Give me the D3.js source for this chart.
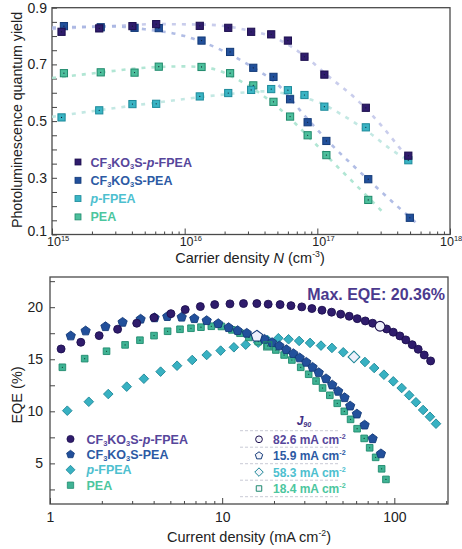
<!DOCTYPE html>
<html>
<head>
<meta charset="utf-8">
<script src="https://cdn.jsdelivr.net/npm/d3@7"></script>
<style>
  body { margin: 0; background: #fff; }
  svg { font-family: "Liberation Sans", Arial, sans-serif; }
</style>
</head>
<body>
<div id="chart"></div>
<script>
// ---- top panel: PLQY vs carrier density ----
const nA = [1.18e15, 2.27e15, 4.04e15, 6.1e15, 1.3e16, 2.13e16, 3.17e16, 4.49e16, 6.0e16, 8.0e16, 1.13e17, 2.32e17, 4.85e17];
const nB = [1.23e15, 2.33e15, 4.19e15, 6.38e15, 1.34e16, 2.2e16, 3.29e16, 4.67e16, 6.23e16, 8.45e16, 1.17e17, 2.42e17, 4.98e17];
const plqySaltPFPEA = [0.815, 0.827, 0.835, 0.842, 0.836, 0.829, 0.815, 0.806, 0.784, 0.727, 0.664, 0.547, 0.378];
const plqySaltPEA = [0.835, 0.831, 0.829, 0.828, 0.784, 0.744, 0.688, 0.656, 0.577, 0.496, 0.430, 0.295, 0.159];
const plqyPFPEA = [0.513, 0.538, 0.560, 0.561, 0.587, 0.599, 0.610, 0.613, 0.609, 0.592, 0.551, 0.478, 0.362];
const plqyPEA = [0.669, 0.672, 0.671, 0.692, 0.691, 0.669, 0.626, 0.568, 0.516, 0.450, 0.380, 0.222];

// dashed fit curves
const fitSaltPFPEA = [[1e15, 0.825], [3e15, 0.836], [6e15, 0.842], [1.5e16, 0.84], [3e16, 0.82], [5e16, 0.79], [8e16, 0.73], [1.2e17, 0.66], [2e17, 0.574], [3.1e17, 0.48], [4.1e17, 0.41], [5e17, 0.36]];
const fitSaltPEA = [[1e15, 0.83], [3e15, 0.834], [5e15, 0.824], [1e16, 0.80], [2e16, 0.745], [3.3e16, 0.688], [5e16, 0.63], [8e16, 0.52], [1.2e17, 0.43], [2.4e17, 0.295], [4e17, 0.2], [5.6e17, 0.14]];
const fitPFPEA = [[1e15, 0.515], [2e15, 0.535], [5e15, 0.56], [1e16, 0.578], [2e16, 0.594], [4e16, 0.605], [7e16, 0.588], [1.04e17, 0.565], [1.5e17, 0.525], [2.5e17, 0.457], [3.5e17, 0.404], [4.5e17, 0.37]];
const fitPEA = [[1e15, 0.652], [2e15, 0.668], [5e15, 0.688], [1e16, 0.693], [1.6e16, 0.685], [2.5e16, 0.647], [5e16, 0.55], [9e16, 0.435], [1.3e17, 0.357], [2e17, 0.27], [3.1e17, 0.18]];

// ---- bottom panel: EQE vs current density ----
const jCircle = [1.16, 1.51, 1.93, 2.47, 3.19, 4.02, 5.04, 6.10, 7.47, 9.05, 11.1, 13.3, 15.9, 18.5, 21.7, 25.1, 29.0, 33.2, 38.0, 43.2, 48.8, 54.7, 60.9, 67.8, 74.8, 82.6, 90.2, 98.6, 107.7, 116.6, 127, 137.6, 149.2, 162.5];
const eqeCircle = [15.99, 16.63, 17.27, 17.88, 18.46, 19.0, 19.38, 19.77, 20.06, 20.25, 20.32, 20.35, 20.35, 20.29, 20.25, 20.15, 20.03, 19.87, 19.71, 19.52, 19.33, 19.13, 18.9, 18.68, 18.46, 18.17, 17.91, 17.6, 17.24, 16.86, 16.4, 15.96, 15.41, 14.84];
const jPent = [1.32, 1.61, 2.10, 2.64, 3.36, 4.05, 4.80, 5.82, 6.89, 8.13, 9.49, 10.9, 12.3, 13.9, 15.9, 17.6, 19.5, 21.5, 23.6, 25.9, 28.2, 30.8, 33.5, 36.4, 40.1, 43.6, 47.2, 51.4, 55.4, 60.6, 67.2, 74.8, 83.6];
const eqePent = [17.24, 17.72, 18.13, 18.55, 18.85, 18.98, 19.1, 19.04, 18.9, 18.71, 18.42, 18.04, 17.75, 17.5, 17.21, 16.92, 16.6, 16.28, 15.92, 15.54, 15.13, 14.71, 14.23, 13.71, 13.13, 12.53, 11.92, 11.31, 10.51, 9.74, 8.68, 7.37, 5.92];
const jDiam = [1.26, 1.68, 2.18, 2.79, 3.51, 4.39, 5.47, 6.70, 8.13, 9.80, 11.7, 13.7, 16.2, 18.3, 21.2, 24.3, 28.0, 32.4, 37.5, 43.4, 50.5, 58.3, 67.5, 76.4, 87.0, 98.6, 110.3, 122, 133.5, 147, 161, 174.6];
const eqeDiam = [10.06, 10.92, 11.66, 12.37, 13.13, 13.81, 14.38, 14.93, 15.41, 15.83, 16.15, 16.4, 16.6, 16.86, 17.02, 16.92, 16.76, 16.57, 16.31, 16.09, 15.67, 15.22, 14.74, 14.16, 13.52, 12.88, 12.24, 11.54, 10.87, 10.13, 9.48, 8.81];
const jSq = [1.18, 1.59, 2.13, 2.73, 3.33, 4.02, 4.82, 5.69, 6.59, 7.53, 8.65, 9.9, 11.4, 12.7, 14.3, 16.2, 18.4, 20.5, 22.9, 25.4, 28.6, 31.8, 35.1, 38.3, 42.2, 46.6, 51.2, 55.7, 60.8, 66.8, 71.9, 77.9, 84.4, 89.4];
const eqeSq = [14.23, 15.06, 15.77, 16.38, 16.83, 17.27, 17.69, 17.88, 17.98, 18.08, 18.17, 18.15, 17.82, 17.5, 17.1, 16.7, 16.28, 15.89, 15.41, 14.93, 14.23, 13.56, 12.91, 12.24, 11.54, 10.77, 10.0, 9.23, 8.33, 7.4, 6.5, 5.58, 4.48, 3.46];

// J90 points (circle, pentagon, diamond, square)
const j90 = [82.6, 15.9, 58.3, 18.4];
const j90Eqe = [18.17, 17.21, 15.22, 16.28];
const j90Labels = ["82.6", "15.9", "58.3", "18.4"];

const names = [
  [["CF"], ["3", "sub"], ["KO"], ["3", "sub"], ["S-"], ["p", "it"], ["-FPEA"]],
  [["CF"], ["3", "sub"], ["KO"], ["3", "sub"], ["S-PEA"]],
  [["p", "it"], ["-FPEA"]],
  [["PEA"]]
];
const fillCol = ["#2f1c6c", "#22509b", "#38b1c2", "#3fb394"];
const edgeCol = ["#1c0f4e", "#133a78", "#1d8797", "#1f8a6e"];
const textCol = ["#56469b", "#2c5aa4", "#4dc0cf", "#4cc69e"];

const W = 462, H = 549;
const svg = d3.select('#chart').append('svg').attr('width', W).attr('height', H);

// custom symbols
const symPentagon = {
  draw(ctx, size) {
    const r = Math.sqrt(size / (2.5 * Math.sin(2 * Math.PI / 5)));
    for (let i = 0; i < 5; i++) {
      const a = -Math.PI / 2 + i * 2 * Math.PI / 5;
      if (i === 0) ctx.moveTo(r * Math.cos(a), r * Math.sin(a));
      else ctx.lineTo(r * Math.cos(a), r * Math.sin(a));
    }
    ctx.closePath();
  }
};
const symDiamond = {
  draw(ctx, size) {
    const h = Math.sqrt(size / 2);
    ctx.moveTo(0, -h); ctx.lineTo(h, 0); ctx.lineTo(0, h); ctx.lineTo(-h, 0); ctx.closePath();
  }
};
const symbols = [d3.symbolCircle, symPentagon, symDiamond, d3.symbolSquare];

// rich text with sub/superscripts and italics
function rich(sel, parts, size) {
  let shift = 0;
  parts.forEach(([txt, kind]) => {
    const want = kind === 'sub' ? size * 0.2 : kind === 'sup' ? -size * 0.4 : 0;
    const t = sel.append('tspan').attr('dy', want - shift).text(txt);
    shift = want;
    if (kind === 'sub' || kind === 'sup') t.attr('font-size', size * 0.6);
    if (kind === 'it') t.attr('font-style', 'italic');
  });
}

function logMinor(lo, hi) {
  const out = [];
  for (let e = lo; e < hi; e++) for (let m = 2; m <= 9; m++) out.push(m * Math.pow(10, e));
  return out;
}

// ================= TOP PANEL =================
const xTop = d3.scaleLog().domain([1e15, 1e18]).range([52, 450]);
const yTop = d3.scaleLinear().domain([0.1, 0.9]).range([234.5, 7.7]);
const topG = svg.append('g');

topG.append('rect')
  .attr('x', 52).attr('y', 7.7).attr('width', 398).attr('height', 226.8)
  .attr('fill', 'none').attr('stroke', '#4a4a4a').attr('stroke-width', 1.3);

// y axis
topG.append('g').attr('transform', 'translate(52,0)')
  .call(d3.axisLeft(yTop).tickValues(d3.range(0.1, 0.91, 0.05)).tickSize(-5).tickFormat(''))
  .call(g => g.select('.domain').remove());
topG.append('g').attr('transform', 'translate(52,0)')
  .call(d3.axisLeft(yTop).tickValues([0.1, 0.3, 0.5, 0.7, 0.9]).tickSize(0).tickPadding(5).tickFormat(d3.format('.1f')))
  .call(g => g.select('.domain').remove())
  .call(g => g.selectAll('.tick').filter(d => d === 0.1).select('text').attr('dy', '0.1em'))
  .selectAll('text').attr('font-size', 14).attr('fill', '#222');

// x axis
topG.append('g').attr('transform', 'translate(0,234.5)')
  .call(d3.axisBottom(xTop).tickValues(logMinor(15, 18)).tickSize(-3).tickFormat(''))
  .call(g => g.select('.domain').remove());
topG.append('g').attr('transform', 'translate(0,234.5)')
  .call(d3.axisBottom(xTop).tickValues([1e15, 1e16, 1e17, 1e18]).tickSize(-6).tickFormat(''))
  .call(g => g.select('.domain').remove());
topG.selectAll('.tick line').attr('stroke', '#444');

[15, 16, 17, 18].forEach(e => {
  const off = e === 18 ? 10 : 5;
  const t = topG.append('text').attr('x', xTop(Math.pow(10, e)) - off).attr('y', 245.5)
    .attr('text-anchor', 'start').attr('font-size', 12.5).attr('fill', '#222');
  rich(t, [["10"], [String(e), "sup"]], 12.5);
});

topG.append('text').attr('x', 250).attr('y', 263).attr('text-anchor', 'middle')
  .attr('font-size', 14.5).attr('fill', '#222')
  .call(t => rich(t, [["Carrier density "], ["N", "it"], [" (cm"], ["-3", "sup"], [")"]], 14.5));

topG.append('text').attr('transform', 'translate(22,120) rotate(-90)')
  .attr('text-anchor', 'middle').attr('font-size', 14.2).attr('fill', '#222')
  .text('Photoluminescence quantum yield');

// fit lines
const fitLine = d3.line().x(d => xTop(d[0])).y(d => yTop(d[1])).curve(d3.curveMonotoneX);
const fits = [fitSaltPFPEA, fitSaltPEA, fitPFPEA, fitPEA];
const fitCol = ["#c3c8ea", "#a9b6e2", "#bde6e0", "#a8e3cf"];
fits.forEach((f, i) => {
  topG.append('path').datum(f).attr('d', fitLine)
    .attr('fill', 'none').attr('stroke', fitCol[i]).attr('stroke-width', 2.6)
    .attr('stroke-dasharray', '4,6').attr('opacity', 0.9);
});

// squares
const topSeries = [
  [nA, plqySaltPFPEA], [nB, plqySaltPEA], [nA, plqyPFPEA], [nB, plqyPEA]
];
const topFill = ["#2f1c6c", "#22509b", "#3ab4c4", "#4dbf9c"];
const topEdge = ["#1c0f4e", "#133a78", "#1c8a9a", "#208a6c"];
[3, 2, 1, 0].forEach(i => {
  const [xs, ys] = topSeries[i];
  const pts = ys.map((v, k) => [xs[k], v]);
  const g = topG.append('g');
  g.selectAll('rect').data(pts).join('rect')
    .attr('x', d => xTop(d[0]) - 3.6).attr('y', d => yTop(d[1]) - 3.6)
    .attr('width', 7.2).attr('height', 7.2)
    .attr('fill', topFill[i]).attr('stroke', topEdge[i]).attr('stroke-width', 1);
  g.selectAll('circle').data(pts).join('circle')
    .attr('cx', d => xTop(d[0])).attr('cy', d => yTop(d[1])).attr('r', 0.6)
    .attr('fill', '#102030');
});

// top legend
names.forEach((nm, i) => {
  const y = 162 + i * 18.3;
  topG.append('rect').attr('x', 75).attr('y', y - 3).attr('width', 6).attr('height', 6)
    .attr('fill', topFill[i]).attr('stroke', topEdge[i]).attr('stroke-width', 0.8);
  const t = topG.append('text').attr('x', 90.5).attr('y', y + 4.5)
    .attr('font-size', 12.5).attr('font-weight', 'bold').attr('fill', textCol[i]);
  rich(t, nm, 12.5);
});

// ================= BOTTOM PANEL =================
const xBot = d3.scaleLog().domain([1, 205]).range([50, 448]);
const yBot = d3.scaleLinear().domain([1.1, 22.9]).range([504, 277]);
const botG = svg.append('g');

botG.append('rect')
  .attr('x', 50).attr('y', 277).attr('width', 398).attr('height', 227)
  .attr('fill', 'none').attr('stroke', '#4a4a4a').attr('stroke-width', 1.3);

botG.append('g').attr('transform', 'translate(50,0)')
  .call(d3.axisLeft(yBot).tickValues(d3.range(2.5, 22.6, 2.5)).tickSize(-5).tickFormat(''))
  .call(g => g.select('.domain').remove());
botG.append('g').attr('transform', 'translate(50,0)')
  .call(d3.axisLeft(yBot).tickValues([5, 10, 15, 20]).tickSize(0).tickPadding(7).tickFormat(d3.format('d')))
  .call(g => g.select('.domain').remove())
  .selectAll('text').attr('font-size', 14).attr('fill', '#222');

botG.append('g').attr('transform', 'translate(0,504)')
  .call(d3.axisBottom(xBot).tickValues(logMinor(0, 2).concat([200])).tickSize(-3).tickFormat(''))
  .call(g => g.select('.domain').remove());
botG.append('g').attr('transform', 'translate(0,504)')
  .call(d3.axisBottom(xBot).tickValues([1, 10, 100]).tickSize(-6).tickPadding(8).tickFormat(d3.format('d')))
  .call(g => g.select('.domain').remove())
  .selectAll('text').attr('font-size', 14).attr('fill', '#222');
botG.selectAll('.tick line').attr('stroke', '#444');

botG.append('text').attr('x', 249).attr('y', 542).attr('text-anchor', 'middle')
  .attr('font-size', 14.5).attr('fill', '#222')
  .call(t => rich(t, [["Current density (mA cm"], ["-2", "sup"], [")"]], 14.5));

botG.append('text').attr('transform', 'translate(22,395) rotate(-90)')
  .attr('text-anchor', 'middle').attr('font-size', 14.5).attr('fill', '#222')
  .text('EQE (%)');

// data markers
const botSeries = [[jCircle, eqeCircle], [jPent, eqePent], [jDiam, eqeDiam], [jSq, eqeSq]];
const botSize = [50, 56, 46, 44];
[2, 3, 1, 0].forEach(i => {
  const [xs, ys] = botSeries[i];
  const pts = ys.map((v, k) => [xs[k], v]);
  const g = botG.append('g');
  g.selectAll('path').data(pts).join('path')
    .attr('d', d3.symbol().type(symbols[i]).size(botSize[i]))
    .attr('transform', d => `translate(${xBot(d[0])},${yBot(d[1])})`)
    .attr('fill', fillCol[i]).attr('stroke', edgeCol[i]).attr('stroke-width', 0.9);
  if (i === 3) {
    g.selectAll('circle').data(pts).join('circle')
      .attr('cx', d => xBot(d[0])).attr('cy', d => yBot(d[1])).attr('r', 0.6)
      .attr('fill', '#0e3a30');
  }
});

// J90 open markers
j90.forEach((j, i) => {
  botG.append('path')
    .attr('d', d3.symbol().type(symbols[i]).size(botSize[i] * 1.5)())
    .attr('transform', `translate(${xBot(j)},${yBot(j90Eqe[i])})`)
    .attr('fill', i === 3 ? 'none' : '#eef0fb').attr('stroke', edgeCol[i]).attr('stroke-width', 1.1);
});

botG.append('text').attr('x', 445).attr('y', 300).attr('text-anchor', 'end')
  .attr('font-size', 16).attr('font-weight', 'bold').attr('fill', '#4b3a8e')
  .text('Max. EQE: 20.36%');

// bottom legend
names.forEach((nm, i) => {
  const y = 439 + i * 15.4;
  botG.append('path')
    .attr('d', d3.symbol().type(symbols[i]).size(40)())
    .attr('transform', `translate(70.5,${y})`)
    .attr('fill', fillCol[i]).attr('stroke', edgeCol[i]).attr('stroke-width', 0.8);
  const t = botG.append('text').attr('x', 86.5).attr('y', y + 4.5)
    .attr('font-size', 12.5).attr('font-weight', 'bold').attr('fill', textCol[i]);
  rich(t, nm, 12.5);
});

// J90 table
const jt = botG.append('text').attr('x', 304).attr('y', 425).attr('text-anchor', 'middle')
  .attr('font-size', 12).attr('font-weight', 'bold').attr('font-style', 'italic').attr('fill', '#3f2f85');
rich(jt, [["J"], ["90", "sub"]], 12);
d3.range(5).forEach(k => {
  const y = 430.7 + k * 16.5;
  botG.append('line').attr('x1', 240).attr('x2', 338).attr('y1', y).attr('y2', y)
    .attr('stroke', '#c9cad6').attr('stroke-width', 1).attr('stroke-dasharray', '3,2');
});
j90Labels.forEach((lab, i) => {
  const y = 439.3 + i * 16.4;
  botG.append('path')
    .attr('d', d3.symbol().type(symbols[i]).size(i === 3 ? 30 : 36)())
    .attr('transform', `translate(259,${y})`)
    .attr('fill', '#f4f5fb').attr('stroke', edgeCol[i]).attr('stroke-width', 1);
  const t = botG.append('text').attr('x', 273).attr('y', y + 4.5)
    .attr('font-size', 12).attr('font-weight', 'bold').attr('fill', textCol[i]);
  rich(t, [[lab + " mA cm"], ["-2", "sup"]], 12);
});
</script>
</body>
</html>
